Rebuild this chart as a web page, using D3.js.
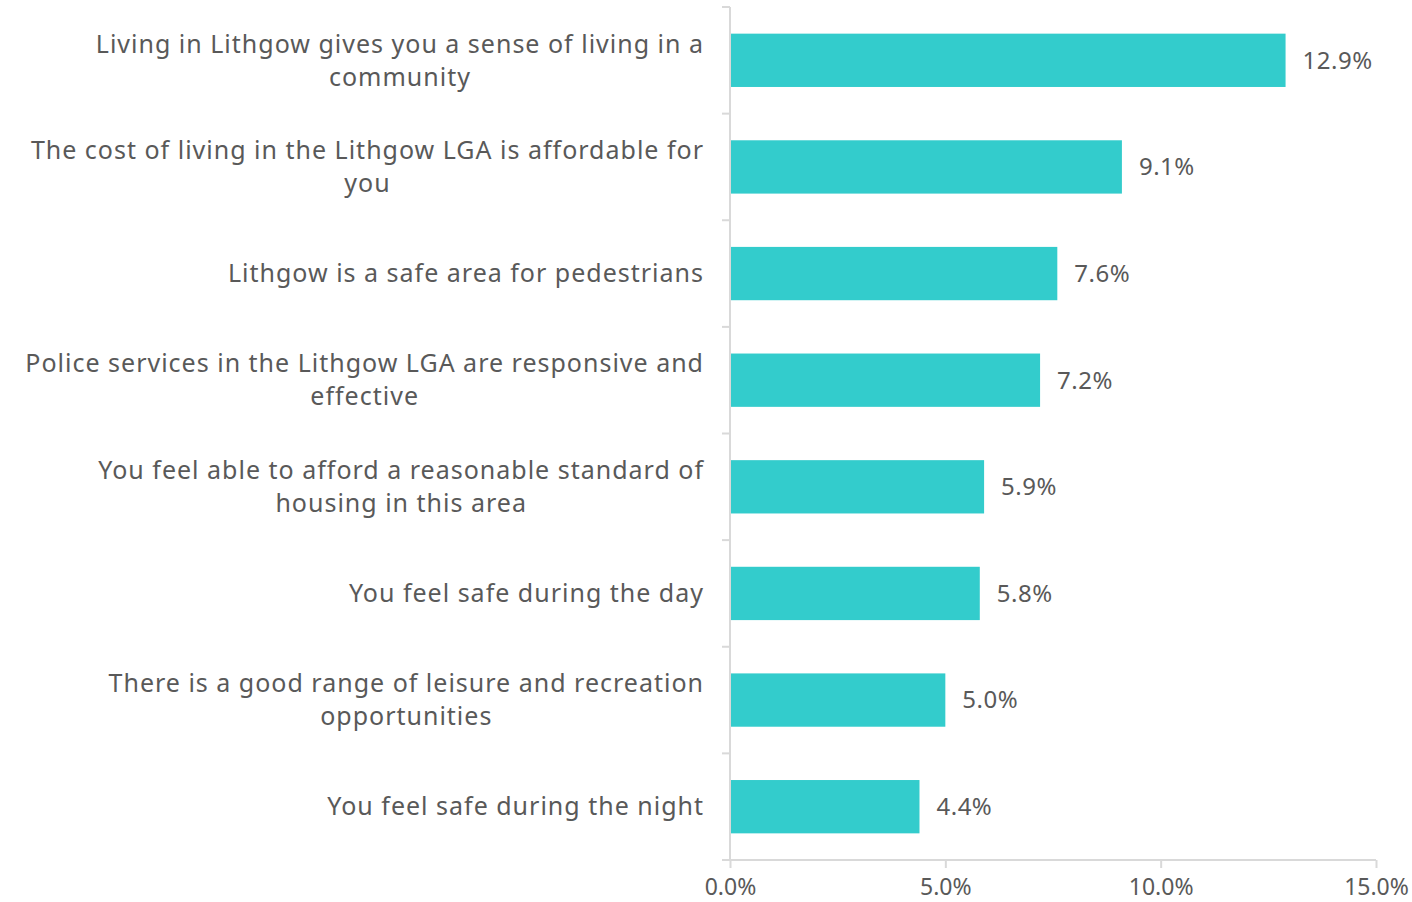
<!DOCTYPE html>
<html>
<head>
<meta charset="utf-8">
<script src="https://cdn.jsdelivr.net/npm/d3@7"></script>
<style>
  body { margin: 0; background: #fff; }
  svg { display: block; font-family: "Noto Sans", sans-serif; }
</style>
</head>
<body>
<svg id="chart" width="1412" height="902"></svg>
<script>
const categories = [
  ["Living in Lithgow gives you a sense of living in a", "community"],
  ["The cost of living in the Lithgow LGA is affordable for", "you"],
  ["Lithgow is a safe area for pedestrians"],
  ["Police services in the Lithgow LGA are responsive and", "effective"],
  ["You feel able to afford a reasonable standard of", "housing in this area"],
  ["You feel safe during the day"],
  ["There is a good range of leisure and recreation", "opportunities"],
  ["You feel safe during the night"]
];
const values = [12.9, 9.1, 7.6, 7.2, 5.9, 5.8, 5.0, 4.4];
const xTicks = [0, 5, 10, 15];

const svg = d3.select("#chart");
const margin = { top: 7, right: 36, bottom: 42, left: 730 };
const width = 1412 - margin.left - margin.right;
const height = 902 - margin.top - margin.bottom;

const x = d3.scaleLinear().domain([0, 15]).range([0, width]);
const y = d3
  .scaleBand()
  .domain(d3.range(categories.length))
  .range([0, height])
  .paddingInner(0.5)
  .paddingOuter(0.25);

const g = svg.append("g").attr("transform", `translate(${margin.left},${margin.top})`);
const textColor = "#595959";
const axisColor = "#d9d9d9";

// bars
g.selectAll("rect.bar")
  .data(values)
  .join("rect")
  .attr("class", "bar")
  .attr("x", 0)
  .attr("y", (d, i) => y(i))
  .attr("width", (d) => x(d))
  .attr("height", y.bandwidth())
  .attr("fill", "#33cccc");

// value labels
g.selectAll("text.val")
  .data(values)
  .join("text")
  .attr("class", "val")
  .attr("x", (d) => x(d) + 17)
  .attr("y", (d, i) => y(i) + y.bandwidth() / 2)
  .attr("dy", "0.35em")
  .attr("font-size", 24)
  .attr("letter-spacing", 0.5)
  .attr("fill", textColor)
  .text((d) => d.toFixed(1) + "%");

// category labels
const step = y.step();
const labels = g
  .selectAll("text.cat")
  .data(categories)
  .join("text")
  .attr("class", "cat")
  .attr("text-anchor", "middle")
  .attr("font-size", 25)
  .attr("letter-spacing", 1)
  .attr("fill", textColor);

labels.each(function (lines, i) {
  const t = d3.select(this);
  const cy = y(i) + y.bandwidth() / 2;
  const lh = 33;
  const y0 = cy - ((lines.length - 1) * lh) / 2;
  lines.forEach((line, j) => {
    t.append("tspan").attr("y", y0 + j * lh).attr("dy", "0.35em").text(line);
  });
});
// right-align the block, center the lines within it
labels.each(function () {
  const t = d3.select(this);
  const spans = t.selectAll("tspan").nodes();
  const w = d3.max(spans, (s) => s.getComputedTextLength());
  spans.forEach((s) => d3.select(s).attr("x", -26 - w / 2));
});

// y axis line + ticks at band boundaries
g.append("line")
  .attr("x1", 0).attr("x2", 0)
  .attr("y1", 0).attr("y2", height)
  .attr("stroke", axisColor).attr("stroke-width", 2);
g.selectAll("line.ytick")
  .data(d3.range(categories.length + 1))
  .join("line")
  .attr("class", "ytick")
  .attr("x1", -8).attr("x2", 0)
  .attr("y1", (i) => i * step).attr("y2", (i) => i * step)
  .attr("stroke", axisColor).attr("stroke-width", 2);

// x axis
const xAxis = g
  .append("g")
  .attr("transform", `translate(0,${height})`)
  .call(
    d3.axisBottom(x)
      .tickValues(xTicks)
      .tickSize(8)
      .tickPadding(11)
      .tickFormat((d) => d.toFixed(1) + "%")
  );
xAxis.select(".domain").attr("stroke", axisColor).attr("stroke-width", 2)
  .attr("d", `M-8,0H${width}`);
xAxis.selectAll(".tick line").attr("stroke", axisColor).attr("stroke-width", 2);
xAxis.selectAll(".tick text")
  .attr("font-size", 23)
  .attr("font-family", '"Noto Sans", sans-serif')
  .attr("fill", textColor);
</script>
</body>
</html>
